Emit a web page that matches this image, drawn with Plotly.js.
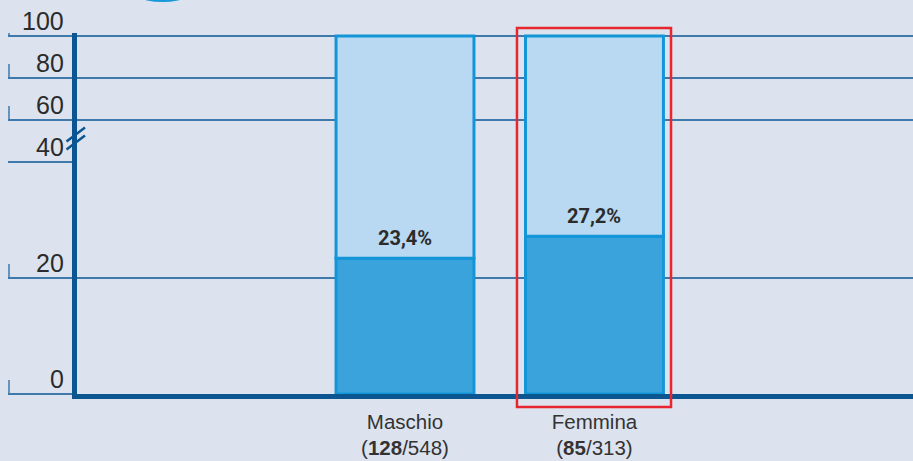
<!DOCTYPE html>
<html>
<head>
<meta charset="utf-8">
<script src="https://cdn.plot.ly/plotly-3.0.1.min.js"></script>
<style>
html,body{margin:0;padding:0;background:#dce3ef;}
#chart{width:913px;height:461px;}
</style>
</head>
<body>
<div id="chart"></div>
<script>
// ---- data ----
const categories = ['Maschio', 'Femmina'];
const positives = [128, 85];
const totals = [548, 313];
const percents = [23.4, 27.2];
const fullScale = [100, 100];
const lowerTicks = [0, 20, 40];
const upperTicks = [60, 80, 100];

// ---- styles ----
const DARK = '#3aa3dc';
const LIGHT = '#b8d9f1';
const EDGE = '#1495d8';
const AXIS = '#0b5591';
const GRID = '#3f78ab';
const TXT = '#2b2b2b';
const FONT = 'Liberation Sans, Arial, sans-serif';
const LABELFONT = 'Roboto, Liberation Sans, Arial, sans-serif';

const restHeights = fullScale.map((v, i) => v - percents[i]);
const pctText = percents.map(v => v.toFixed(1).replace('.', ',') + '%');
const tickText = categories.map((c, i) => c + '<br>(<b>' + positives[i] + '</b>/' + totals[i] + ')');

const barLine = {color: EDGE, width: 3};
const W = 0.728;

const traces = [
  {type: 'bar', x: categories, y: percents, yaxis: 'y', width: W,
   marker: {color: DARK, line: barLine}, hoverinfo: 'skip'},
  {type: 'bar', x: categories, y: restHeights, base: percents, yaxis: 'y', width: W,
   marker: {color: LIGHT, line: barLine}, hoverinfo: 'skip'},
  {type: 'bar', x: categories, y: restHeights, base: percents, yaxis: 'y2', width: W,
   marker: {color: LIGHT, line: barLine}, hoverinfo: 'skip'}
];

// geometry
const L = 77, T = 33, B = 67, PW = 913 - L, PH = 461 - T - B;
const splitFrac = 232 / PH;
const px2paperX = p => (p - L) / PW;
const px2paperY = p => (461 - B - p) / PH;

const annotations = [];
lowerTicks.forEach(v => annotations.push({
  xref: 'paper', yref: 'y', x: px2paperX(66), y: v, xanchor: 'right', yanchor: 'middle',
  yshift: 15, text: String(v), showarrow: false, font: {family: FONT, size: 25, color: TXT}
}));
upperTicks.forEach(v => annotations.push({
  xref: 'paper', yref: 'y2', x: px2paperX(66), y: v, xanchor: 'right', yanchor: 'middle',
  yshift: 15, text: String(v), showarrow: false, font: {family: FONT, size: 25, color: TXT}
}));
categories.forEach((c, i) => annotations.push({
  xref: 'x', yref: 'y', x: c, y: percents[i], xanchor: 'center', yanchor: 'bottom',
  yshift: 6, text: '<b>' + pctText[i] + '</b>', showarrow: false,
  font: {family: LABELFONT, size: 20, color: TXT}
}));

const shapes = [];
// bracket tick marks
lowerTicks.forEach(v => shapes.push({type: 'line', xref: 'paper', yref: 'y', x0: px2paperX(9), x1: px2paperX(9),
  ysizemode: 'pixel', yanchor: v, y0: 0, y1: 14, line: {color: GRID, width: 1.5}}));
upperTicks.forEach(v => shapes.push({type: 'line', xref: 'paper', yref: 'y2', x0: px2paperX(9), x1: px2paperX(9),
  ysizemode: 'pixel', yanchor: v, y0: 0, y1: 14, line: {color: GRID, width: 1.5}}));
// axis break slashes
shapes.push({type: 'line', xref: 'paper', yref: 'paper', x0: px2paperX(66.5), y0: px2paperY(141.5), x1: px2paperX(85), y1: px2paperY(127.5), line: {color: AXIS, width: 2.5}});
shapes.push({type: 'line', xref: 'paper', yref: 'paper', x0: px2paperX(66.5), y0: px2paperY(149.5), x1: px2paperX(85), y1: px2paperY(135.5), line: {color: AXIS, width: 2.5}});
// red highlight box
shapes.push({type: 'rect', xref: 'x', yref: 'paper', x0: 0.591, x1: 1.404, y0: px2paperY(407), y1: px2paperY(28),
  line: {color: '#e8262d', width: 2.5}, fillcolor: 'rgba(0,0,0,0)', layer: 'above'});
// decorative blue arc at top
shapes.push({type: 'circle', xref: 'paper', yref: 'paper', x0: px2paperX(122), x1: px2paperX(203), y0: px2paperY(2), y1: px2paperY(-40),
  line: {width: 0}, fillcolor: '#1a98dc', layer: 'below'});

const layout = {
  width: 913, height: 461,
  margin: {l: L, r: 0, t: T, b: B, pad: 0},
  paper_bgcolor: '#dce3ef', plot_bgcolor: 'rgba(0,0,0,0)',
  showlegend: false, barmode: 'overlay',
  xaxis: {type: 'category', range: [-1.731, 2.681], tickvals: categories, ticktext: tickText,
    showline: true, linecolor: AXIS, linewidth: 5, ticks: '', showgrid: false, zeroline: false,
    ticklabelstandoff: 5,
    tickfont: {family: FONT, size: 20.5, color: '#333'}, fixedrange: true},
  yaxis: {domain: [0, splitFrac], range: [0, 40], tickvals: lowerTicks, showticklabels: false,
    ticks: 'outside', ticklen: 64, tickwidth: 1.5, tickcolor: GRID,
    showgrid: true, gridcolor: GRID, gridwidth: 1.5, zeroline: false,
    showline: true, linecolor: AXIS, linewidth: 5, fixedrange: true},
  yaxis2: {domain: [splitFrac, 1], range: [40, 40 + (PH - 232) / 2.1], tickvals: upperTicks, showticklabels: false,
    ticks: 'outside', ticklen: 64, tickwidth: 1.5, tickcolor: GRID,
    showgrid: true, gridcolor: GRID, gridwidth: 1.5, zeroline: false,
    showline: true, linecolor: AXIS, linewidth: 5, anchor: 'x', fixedrange: true},
  annotations: annotations,
  shapes: shapes
};

Plotly.newPlot('chart', traces, layout, {displayModeBar: false, staticPlot: true});
</script>
</body>
</html>
